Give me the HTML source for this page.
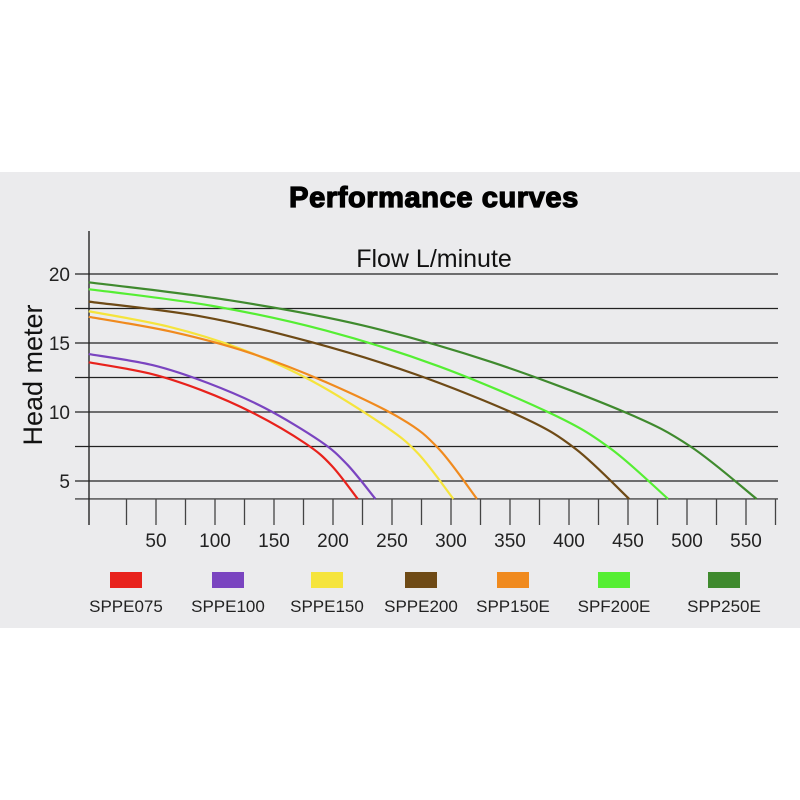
<!DOCTYPE html>
<html><head><meta charset="utf-8"><style>
body{margin:0;background:#fff;}
svg{display:block;font-family:"Liberation Sans",sans-serif;}
</style></head><body>
<svg id="chart" width="800" height="800">
<rect x="0" y="172" width="800" height="456" fill="#ebebed"/>
<text x="434" y="207" text-anchor="middle" font-size="29" font-weight="bold" letter-spacing="0.6" stroke="#000" stroke-width="1.3">Performance curves</text>
<text x="434" y="267" text-anchor="middle" font-size="25" fill="#111">Flow L/minute</text>
<text transform="translate(42,375) rotate(-90)" text-anchor="middle" font-size="27" fill="#111">Head meter</text>
<g id="grid"></g><g id="curves"></g><g id="legend"></g>
</svg>
<script>
const yTicks=[20,17.5,15,12.5,10,7.5,5,3.7];
const yLabels=[20,15,10,5];
const xTicks=[25,50,75,100,125,150,175,200,225,250,275,300,325,350,375,400,425,450,475,500,525,550,575];
const xLabels=[50,100,150,200,250,300,350,400,450,500,550];
const names=["SPPE075","SPPE100","SPPE150","SPPE200","SPP150E","SPF200E","SPP250E"];
const colors=["#e8221c","#7a44c0","#f5e43c","#6e4a16","#f08a1e","#55ee33","#3f8a2e"];
const flowRed=[-7,44,88,133,177,199,221];const headRed=[13.6,12.8,11.6,9.9,7.7,6.1,3.7];
const flowPurple=[-7,47,94,142,189,212,236];const headPurple=[14.2,13.4,12.1,10.3,7.9,6.2,3.7];
const flowYellow=[-7,60,121,181,242,272,302];const headYellow=[17.3,16.2,14.6,12.3,9.1,7.0,3.7];
const flowBrown=[-7,90,180,271,361,406,451];const headBrown=[18,16.9,15.1,12.7,9.6,7.3,3.7];
const flowOrange=[-7,64,129,193,258,290,322];const headOrange=[16.9,15.8,14.3,12.2,9.5,7.3,3.7];
const flowLGreen=[-7,97,194,290,387,436,484];const headLGreen=[18.9,17.7,15.9,13.3,9.8,7.3,3.7];
const flowDGreen=[-7,112,224,335,447,503,559];const headDGreen=[19.4,18.1,16.3,13.6,10.0,7.5,3.7];
const flows=[flowRed,flowPurple,flowYellow,flowBrown,flowOrange,flowLGreen,flowDGreen];
const heads=[headRed,headPurple,headYellow,headBrown,headOrange,headLGreen,headDGreen];
const X=v=>97+1.18*v, Y=h=>481-(h-5)*13.8;
const NS="http://www.w3.org/2000/svg";
function mk(t,a,p){const e=document.createElementNS(NS,t);for(const k in a)e.setAttribute(k,a[k]);p.appendChild(e);return e;}
const grid=document.getElementById('grid');
const ax=mk('line',{x1:89,y1:231,x2:89,y2:525,stroke:'#333','stroke-width':1.5},grid);


yTicks.forEach(t=>{const l=mk('line',{x1:75,x2:778,y1:Y(t),y2:Y(t),stroke:'#222','stroke-width':1.2},grid);

});
yLabels.forEach(t=>{const l=mk('text',{x:70,y:Y(t)+7,'text-anchor':'end','font-size':19,fill:'#222'},grid);l.textContent=t;

});
xTicks.forEach(t=>{const l=mk('line',{x1:X(t),x2:X(t),y1:499,y2:525,stroke:'#444','stroke-width':1.3},grid);

});
xLabels.forEach(t=>{const l=mk('text',{x:X(t),y:547,'text-anchor':'middle','font-size':19,fill:'#222'},grid);l.textContent=t;

});
function path(pts){let d='M'+pts[0][0]+','+pts[0][1];for(let i=0;i<pts.length-1;i++){const p0=pts[i-1]||pts[i],p1=pts[i],p2=pts[i+1],p3=pts[i+2]||p2;
d+=' C'+(p1[0]+(p2[0]-p0[0])/6)+','+(p1[1]+(p2[1]-p0[1])/6)+' '+(p2[0]-(p3[0]-p1[0])/6)+','+(p2[1]-(p3[1]-p1[1])/6)+' '+p2[0]+','+p2[1];}return d;}
const cg=document.getElementById('curves'),lg=document.getElementById('legend');
const swX=[110,212,311,405,497,598,708];
names.forEach((n,i)=>{const pts=flows[i].map((f,j)=>[X(f),Y(heads[i][j])]);
const p=mk('path',{d:path(pts),fill:'none',stroke:colors[i],'stroke-width':2.2},cg);


const r=mk('rect',{x:swX[i],y:572,width:32,height:16,fill:colors[i]},lg);


const t=mk('text',{x:swX[i]+16,y:612,'text-anchor':'middle','font-size':17,fill:'#222'},lg);t.textContent=n;

});
</script>
</body></html>
